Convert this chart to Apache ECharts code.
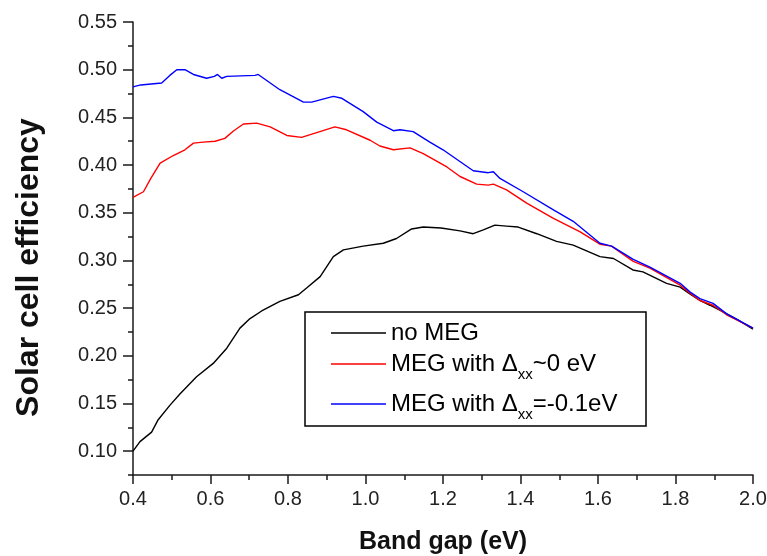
<!DOCTYPE html>
<html>
<head>
<meta charset="utf-8">
<title>Solar cell efficiency vs band gap</title>
<script src="https://cdn.jsdelivr.net/npm/echarts@6/dist/echarts.min.js"></script>
<style>
  html, body { margin: 0; padding: 0; background: #fff; }
  #chart { width: 767px; height: 556px; }
</style>
</head>
<body>
<div id="chart"></div>
<script>
// Band gap (eV) sample points and efficiencies for each curve
const noMegX = [0.400, 0.418, 0.448, 0.465, 0.495, 0.521, 0.564, 0.607, 0.642, 0.676, 0.702, 0.732,
  0.779, 0.827, 0.848, 0.883, 0.917, 0.943, 0.994, 1.046, 1.080, 1.119, 1.149, 1.195, 1.244, 1.278,
  1.304, 1.334, 1.364, 1.394, 1.442, 1.493, 1.536, 1.605, 1.640, 1.690, 1.716, 1.777, 1.812, 1.837,
  1.863, 1.889, 1.923, 1.960, 2.000];
const noMegY = [0.100, 0.110, 0.120, 0.133, 0.148, 0.160, 0.178, 0.192, 0.208, 0.229, 0.239, 0.247,
  0.257, 0.264, 0.271, 0.283, 0.304, 0.311, 0.315, 0.318, 0.323, 0.333, 0.335, 0.334, 0.331, 0.328,
  0.332, 0.337, 0.336, 0.335, 0.328, 0.320, 0.316, 0.304, 0.302, 0.290, 0.288, 0.276, 0.272, 0.265,
  0.258, 0.253, 0.246, 0.238, 0.228];

const meg0X = [0.400, 0.427, 0.446, 0.470, 0.504, 0.534, 0.556, 0.581, 0.612, 0.637, 0.660, 0.685,
  0.719, 0.754, 0.797, 0.835, 0.874, 0.921, 0.951, 1.012, 1.037, 1.072, 1.115, 1.149, 1.210, 1.244,
  1.287, 1.317, 1.330, 1.364, 1.416, 1.485, 1.554, 1.605, 1.635, 1.691, 1.734, 1.812, 1.833, 1.863,
  1.897, 1.932, 2.000];
const meg0Y = [0.366, 0.372, 0.386, 0.402, 0.410, 0.416, 0.423, 0.424, 0.425, 0.428, 0.436, 0.443,
  0.444, 0.440, 0.431, 0.429, 0.434, 0.440, 0.437, 0.426, 0.420, 0.416, 0.418, 0.412, 0.398, 0.388,
  0.380, 0.379, 0.380, 0.374, 0.360, 0.344, 0.330, 0.317, 0.315, 0.299, 0.292, 0.274, 0.267, 0.258,
  0.253, 0.243, 0.229];

const meg01X = [0.400, 0.420, 0.474, 0.495, 0.513, 0.534, 0.556, 0.590, 0.610, 0.618, 0.629, 0.642,
  0.715, 0.723, 0.779, 0.840, 0.861, 0.917, 0.939, 0.994, 1.029, 1.072, 1.089, 1.123, 1.166, 1.200,
  1.278, 1.317, 1.330, 1.347, 1.407, 1.485, 1.536, 1.605, 1.635, 1.691, 1.734, 1.812, 1.837, 1.863,
  1.897, 1.932, 2.000];
const meg01Y = [0.482, 0.484, 0.486, 0.494, 0.500, 0.500, 0.495, 0.491, 0.493, 0.495, 0.491, 0.493,
  0.494, 0.495, 0.479, 0.466, 0.466, 0.472, 0.470, 0.456, 0.445, 0.436, 0.437, 0.435, 0.424, 0.416,
  0.394, 0.392, 0.393, 0.386, 0.372, 0.353, 0.341, 0.318, 0.315, 0.301, 0.293, 0.276, 0.267, 0.260,
  0.255, 0.244, 0.229];

const seriesNames = ['no MEG', 'MEG with Δxx~0 eV', 'MEG with Δxx=-0.1eV'];
const seriesColors = ['#000000', '#ff0000', '#0000ff'];

// Axis ticks
const yMajorTicks = [0.10, 0.15, 0.20, 0.25, 0.30, 0.35, 0.40, 0.45, 0.50, 0.55];

const pairs = (xs, ys) => xs.map((x, i) => [x, ys[i]]);
const curves = [pairs(noMegX, noMegY), pairs(meg0X, meg0Y), pairs(meg01X, meg01Y)];

const FONT = '"Liberation Sans", Arial, Helvetica, sans-serif';
const AXIS_COLOR = '#1a1a1a';

// One legend per row so each row can sit at its own height inside the box
const legendRows = [
  { name: seriesNames[0], top: 321 },
  { name: seriesNames[1], top: 352 },
  { name: seriesNames[2], top: 392 }
];

const chart = echarts.init(document.getElementById('chart'), null, { renderer: 'canvas' });

chart.setOption({
  animation: false,
  backgroundColor: '#ffffff',
  grid: { left: 133, right: 14, top: 22, bottom: 81, outerBoundsMode: 'none' },
  xAxis: {
    type: 'value',
    min: 0.4,
    max: 2.0,
    interval: 0.2,
    name: 'Band gap (eV)',
    nameLocation: 'middle',
    nameGap: 55,
    nameTextStyle: { fontFamily: FONT, fontSize: 25, fontWeight: 'bold', color: '#111' },
    axisLine: { show: true, onZero: false, lineStyle: { color: AXIS_COLOR, width: 1.5 } },
    axisTick: { show: true, length: 9, lineStyle: { color: AXIS_COLOR, width: 1.5 } },
    minorTick: { show: true, splitNumber: 2, length: 5, lineStyle: { color: AXIS_COLOR, width: 1.5 } },
    axisLabel: {
      margin: 14, fontFamily: FONT, fontSize: 20, color: '#222',
      formatter: v => v.toFixed(1)
    },
    splitLine: { show: false },
    minorSplitLine: { show: false }
  },
  yAxis: [
    {
      type: 'value',
      min: 0.075,
      max: 0.55,
      position: 'left',
      name: 'Solar cell efficiency',
      nameLocation: 'middle',
      nameGap: 88,
      nameTextStyle: {
        fontFamily: FONT, fontSize: 32, fontWeight: 'bold', color: '#111',
        padding: [0, 38, 0, 0]
      },
      axisLine: { show: true, onZero: false, lineStyle: { color: AXIS_COLOR, width: 1.5 } },
      axisTick: { show: true, length: 10, customValues: yMajorTicks, lineStyle: { color: AXIS_COLOR, width: 1.5 } },
      axisLabel: {
        margin: 16, fontFamily: FONT, fontSize: 20, color: '#222',
        customValues: yMajorTicks,
        formatter: v => v.toFixed(2)
      },
      splitLine: { show: false }
    },
    {
      // minor ticks halfway between the labelled ones
      type: 'value',
      min: 0.075,
      max: 0.55,
      interval: 0.05,
      position: 'left',
      offset: 0,
      axisLine: { show: false },
      axisTick: { show: true, length: 5, lineStyle: { color: AXIS_COLOR, width: 1.5 } },
      axisLabel: { show: false },
      splitLine: { show: false }
    }
  ],
  legend: legendRows.map(row => ({
    data: [row.name],
    left: 331,
    top: row.top,
    padding: 0,
    icon: 'rect',
    itemWidth: 55,
    itemHeight: 1.5,
    selectedMode: false,
    textStyle: {
      fontFamily: FONT, fontSize: 24, lineHeight: 24, color: '#000',
      rich: {
        s: { fontFamily: FONT, fontSize: 15, color: '#000', padding: [22, 0, 0, 0] }
      }
    },
    formatter: name => name.replace('Δxx', 'Δ{s|xx}')
  })),
  graphic: [{
    type: 'rect',
    z: 1,
    shape: { x: 305, y: 312, width: 341, height: 114 },
    style: { fill: '#ffffff', stroke: '#000000', lineWidth: 1.5 }
  }],
  series: curves.map((data, i) => ({
    type: 'line',
    name: seriesNames[i],
    yAxisIndex: 0,
    data: data,
    symbol: 'none',
    smooth: false,
    z: 2 + i,
    lineStyle: { color: seriesColors[i], width: 1.4 },
    itemStyle: { color: seriesColors[i] }
  }))
});
</script>
</body>
</html>
